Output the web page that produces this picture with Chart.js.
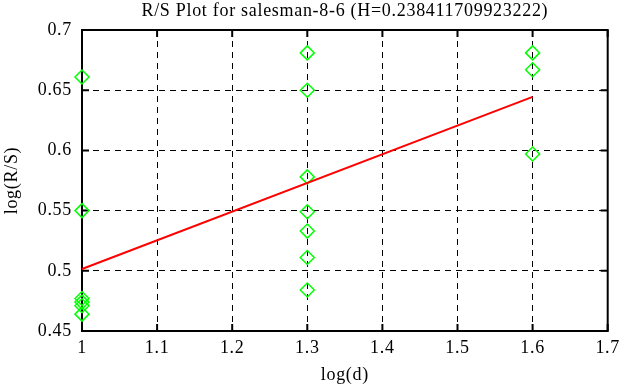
<!DOCTYPE html>
<html>
<head>
<meta charset="utf-8">
<script src="https://cdn.jsdelivr.net/npm/chart.js@4"></script>
<style>
  html, body { margin: 0; padding: 0; background: #fff; }
  #wrap { width: 626px; height: 387px; }
</style>
</head>
<body>
<div id="wrap"><canvas id="rsChart"></canvas></div>
<script>
// log(R/S) values, grouped by log(d)
const rsAt1 = [0.661, 0.550, 0.477, 0.474, 0.471, 0.464];
const rsAt13 = [0.681, 0.650, 0.578, 0.549, 0.533, 0.511, 0.484];
const rsAt16 = [0.681, 0.667, 0.597];

// fitted line (slope = H)
const fitX = [1, 1.6];
const fitY = [0.5015, 0.6445];

const xTicks = [1, 1.1, 1.2, 1.3, 1.4, 1.5, 1.6, 1.7];
const yTicks = [0.45, 0.5, 0.55, 0.6, 0.65, 0.7];

const points = [
    ...rsAt1.map(v => ({ x: 1, y: v })),
    ...rsAt13.map(v => ({ x: 1.3, y: v })),
    ...rsAt16.map(v => ({ x: 1.6, y: v }))
];
const fitLine = fitX.map((x, i) => ({ x: x, y: fitY[i] }));

const serif = "'Liberation Serif', 'DejaVu Serif', serif";

// the reference font is set a little wider than Liberation Serif
const wideText = {
    id: 'wideText',
    beforeUpdate(chart) { chart.ctx.letterSpacing = '0.7px'; },
    beforeDraw(chart) { chart.ctx.letterSpacing = '0.7px'; }
};

// gnuplot-like frame with inward ticks on all four sides
const gnuplotFrame = {
    id: 'gnuplotFrame',
    beforeDatasetsDraw(chart) {
        const { ctx, chartArea: a, scales: { x, y } } = chart;
        const len = 7;
        ctx.save();
        ctx.strokeStyle = '#000';
        ctx.lineWidth = 2;
        ctx.setLineDash([]);
        ctx.strokeRect(a.left, a.top, a.right - a.left, a.bottom - a.top);
        ctx.beginPath();
        x.ticks.forEach(t => {
            const px = x.getPixelForValue(t.value);
            ctx.moveTo(px, a.bottom); ctx.lineTo(px, a.bottom - len);
            ctx.moveTo(px, a.top); ctx.lineTo(px, a.top + len);
        });
        y.ticks.forEach(t => {
            const py = y.getPixelForValue(t.value);
            ctx.moveTo(a.left, py); ctx.lineTo(a.left + len, py);
            ctx.moveTo(a.right, py); ctx.lineTo(a.right - len, py);
        });
        ctx.stroke();
        ctx.restore();
    }
};

const ctx = document.getElementById('rsChart').getContext('2d');
new Chart(ctx, {
    type: 'scatter',
    data: {
        datasets: [{
            label: 'R/S',
            data: points,
            pointStyle: 'rectRot',
            pointRadius: 7,
            pointBorderWidth: 1.5,
            borderColor: '#00ff00',
            backgroundColor: 'rgba(0,0,0,0)',
            clip: false,
            order: 1
        }, {
            label: 'fit',
            data: fitLine,
            showLine: true,
            pointRadius: 0,
            borderColor: '#ff0000',
            borderWidth: 2,
            clip: false,
            order: 0
        }]
    },
    options: {
        responsive: true,
        maintainAspectRatio: false,
        animation: false,
        events: [],
        layout: { padding: { left: 0, right: 16, top: 0, bottom: 0 } },
        plugins: {
            legend: { display: false },
            tooltip: { enabled: false },
            title: {
                display: true,
                fullSize: false,
                text: 'R/S Plot for salesman-8-6 (H=0.238411709923222)',
                color: '#000',
                font: { family: serif, size: 18, weight: 'normal' },
                padding: { top: 0, bottom: 8.4 }
            }
        },
        scales: {
            x: {
                type: 'linear',
                min: 1,
                max: 1.7,
                afterBuildTicks: s => { s.ticks = xTicks.map(v => ({ value: v })); },
                afterFit: s => { s.height = 56; },
                ticks: {
                    color: '#000',
                    padding: 6,
                    font: { family: serif, size: 18 },
                    callback: v => String(v)
                },
                grid: { color: '#000', lineWidth: 1, drawTicks: false },
                border: { display: false, dash: [6, 5] },
                title: {
                    display: true,
                    text: 'log(d)',
                    color: '#000',
                    font: { family: serif, size: 18 },
                    padding: { top: 0, bottom: 1 }
                }
            },
            y: {
                type: 'linear',
                min: 0.45,
                max: 0.7,
                afterBuildTicks: s => { s.ticks = yTicks.map(v => ({ value: v })); },
                afterFit: s => { s.width = 82; },
                ticks: {
                    color: '#000',
                    padding: 10,
                    font: { family: serif, size: 18 },
                    callback: v => String(v)
                },
                grid: { color: '#000', lineWidth: 1, drawTicks: false },
                border: { display: false, dash: [6, 5] },
                title: {
                    display: true,
                    text: 'log(R/S)',
                    color: '#000',
                    font: { family: serif, size: 18 },
                    padding: { top: 1, bottom: 0 }
                }
            }
        }
    },
    plugins: [wideText, gnuplotFrame]
});
</script>
</body>
</html>
